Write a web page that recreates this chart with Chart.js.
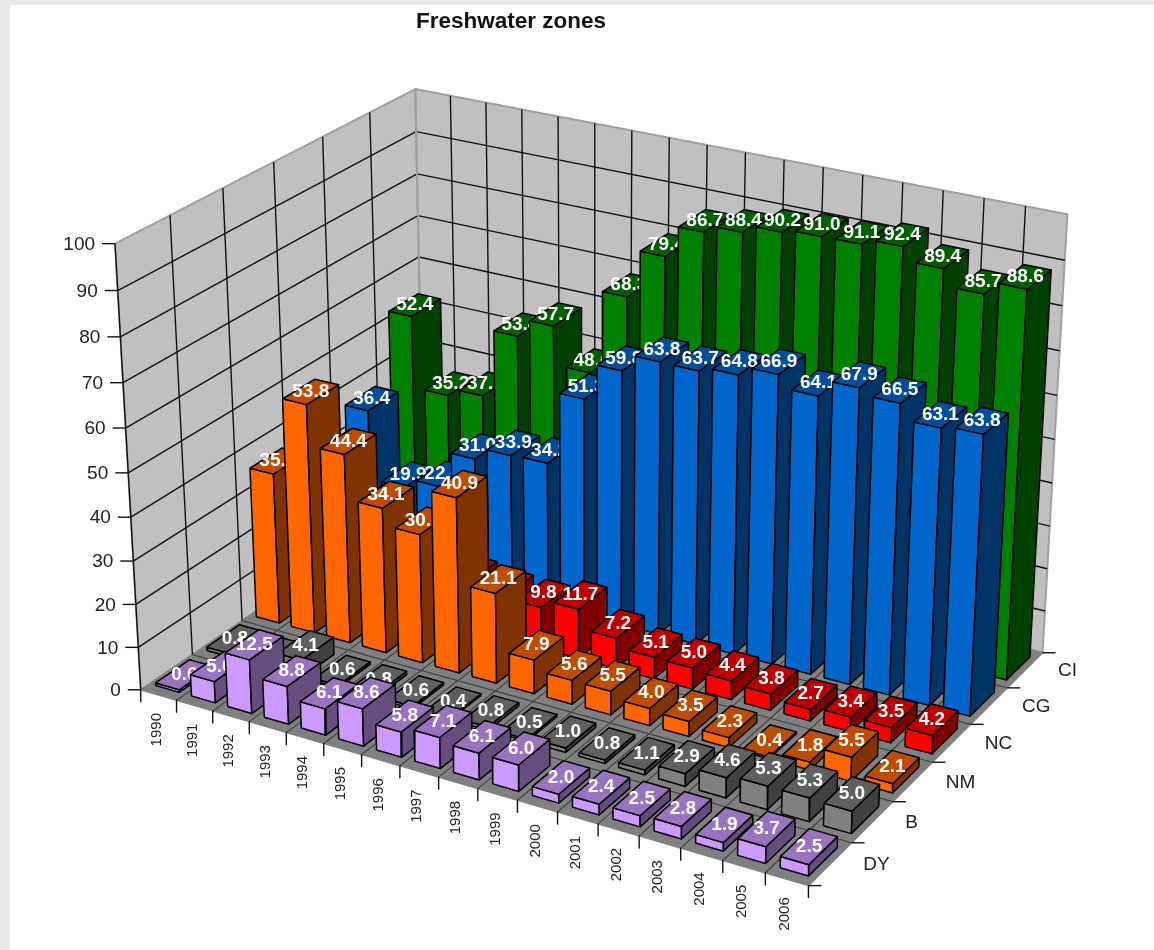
<!DOCTYPE html>
<html>
<head>
<meta charset="utf-8">
<title>Freshwater zones</title>
<script src="https://cdn.jsdelivr.net/npm/chart.js@4/dist/chart.umd.min.js"></script>
<style>
  html, body { margin: 0; height: 100%; background: #e9e9e9; overflow: hidden; }
  #panel { position: absolute; left: 10px; top: 5px; right: 0; bottom: 0; background: #fff; }
  #chart { position: absolute; left: 0; top: 0; }
</style>
</head>
<body>
<div id="panel"></div>
<canvas id="chart" width="1154" height="950"></canvas>
<script>
const years = ['1990', '1991', '1992', '1993', '1994', '1995', '1996', '1997', '1998',
  '1999', '2000', '2001', '2002', '2003', '2004', '2005', '2006'];
const zones = ['DY', 'B', 'NM', 'NC', 'CG', 'CI'];
const valueTicks = [0, 10, 20, 30, 40, 50, 60, 70, 80, 90, 100];

const dyValues = [0.6, 5.0, 12.5, 8.8, 6.1, 8.6, 5.8, 7.1, 6.1, 6.0, 2.0, 2.4, 2.5, 2.8, 1.9, 3.7, 2.5];
const bValues = [0.8, 0.5, 4.1, 0.6, 0.8, 0.6, 0.4, 0.8, 0.5, 1.0, 0.8, 1.1, 2.9, 4.6, 5.3, 5.3, 5.0];
const nmValues = [35.6, 53.8, 44.4, 34.1, 30.2, 40.9, 21.1, 7.9, 5.6, 5.5, 4.0, 3.5, 2.3, 0.4, 1.8, 5.5, 2.1];
const ncValues = [null, null, null, null, 11.0, 10.0, 9.8, 11.7, 7.2, 5.1, 5.0, 4.4, 3.8, 2.7, 3.4, 3.5, 4.2];
const cgValues = [36.4, 19.9, 22.2, 31.0, 33.9, 34.2, 51.3, 59.8, 63.8, 63.7, 64.8, 66.9, 64.1, 67.9, 66.5, 63.1, 63.8];
const ciValues = [52.4, 35.2, 37.1, 53.4, 57.7, 48.6, 68.3, 79.4, 86.7, 88.4, 90.2, 91.0, 91.1, 92.4, 89.4, 85.7, 88.6];
const zoneValues = [dyValues, bValues, nmValues, ncValues, cgValues, ciValues];

// front, side and top shades per zone
const zoneFaces = [
  ['#cc99ff', '#664d80', '#9973bf'],
  ['#808080', '#404040', '#606060'],
  ['#ff6600', '#803300', '#bf4c00'],
  ['#ff0000', '#800000', '#bf0000'],
  ['#0066cc', '#003366', '#004d99'],
  ['#008000', '#004000', '#006000']
];

const nYears = years.length, nZones = zones.length, maxValue = 100;
const barSpan = 0.66; // share of a cell taken by a bar

// where the plot box corners land: year, value, zone, then canvas x, y
const boxAnchors = [
  [0, 0, 0, 141, 691], [0, 100, 0, 115, 245], [0, 50, 0, 128, 470],
  [0, 100, 6, 415, 89], [0, 60, 6, 419, 257], [0, 0, 6, 424, 497],
  [17, 100, 6, 1068, 214], [17, 50, 6, 1054, 440], [17, 0, 6, 1043, 652],
  [17, 0, 0, 810, 885], [17, 0, 1, 850, 844], [17, 0, 3, 932, 762]
];

// least squares for the 11 terms of the perspective matrix
function solveCamera(anchors) {
  const n = 11;
  const m = Array.from({ length: n }, () => Array(n + 1).fill(0));
  const addRow = (r, b) => {
    for (let i = 0; i < n; i++) {
      for (let j = 0; j < n; j++) m[i][j] += r[i] * r[j];
      m[i][n] += r[i] * b;
    }
  };
  anchors.forEach(([yr, val, zn, px, py]) => {
    const a = yr / nYears, b = val / maxValue, c = zn / nZones, u = px / 1000, v = py / 1000;
    addRow([a, b, c, 1, 0, 0, 0, 0, -u * a, -u * b, -u * c], u);
    addRow([0, 0, 0, 0, a, b, c, 1, -v * a, -v * b, -v * c], v);
  });
  for (let i = 0; i < n; i++) {
    let p = i;
    for (let k = i + 1; k < n; k++) if (Math.abs(m[k][i]) > Math.abs(m[p][i])) p = k;
    [m[i], m[p]] = [m[p], m[i]];
    for (let k = 0; k < n; k++) {
      if (k === i) continue;
      const f = m[k][i] / m[i][i];
      for (let j = i; j <= n; j++) m[k][j] -= f * m[i][j];
    }
  }
  return m.map((row, i) => row[n] / row[i]);
}

const cam = solveCamera(boxAnchors);

// year and zone are cell positions, value is on the 0-100 axis
function project(yr, val, zn) {
  const a = yr / nYears, b = val / maxValue, c = zn / nZones;
  const w = cam[8] * a + cam[9] * b + cam[10] * c + 1;
  return {
    x: 1000 * (cam[0] * a + cam[1] * b + cam[2] * c + cam[3]) / w,
    y: 1000 * (cam[4] * a + cam[5] * b + cam[6] * c + cam[7]) / w
  };
}

const datasets = [];

function addShape(points, fill, stroke, width, label) {
  datasets.push({
    data: points,
    showLine: true,
    tension: 0,
    pointRadius: 0,
    fill: fill ? 'shape' : false,
    backgroundColor: fill || 'transparent',
    borderColor: stroke,
    borderWidth: width,
    borderJoinStyle: 'round',
    barLabel: label
  });
}

function addLine(a, b, stroke, width) {
  addShape([a, b], null, stroke, width);
}

// walls and floor
const wallEdge = '#a0a0a0', wallFill = '#c0c0c0', gridLine = '#111';
addShape([project(0, 0, 0), project(0, 100, 0), project(0, 100, 6), project(0, 0, 6), project(0, 0, 0)], wallFill, wallEdge, 2);
addShape([project(0, 0, 6), project(0, 100, 6), project(17, 100, 6), project(17, 0, 6), project(0, 0, 6)], wallFill, wallEdge, 2);
addShape([project(0, 0, 0), project(0, 0, 6), project(17, 0, 6), project(17, 0, 0), project(0, 0, 0)], '#808080', '#808080', 1.5);

valueTicks.slice(1, -1).forEach(v => {
  addLine(project(0, v, 0), project(0, v, 6), gridLine, 1.4);
  addLine(project(0, v, 6), project(17, v, 6), gridLine, 1.4);
});
for (let z = 1; z < nZones; z++) {
  addLine(project(0, 0, z), project(0, 100, z), gridLine, 1.4);
  addLine(project(0, 0, z), project(17, 0, z), '#444', 1.2);
}
for (let y = 1; y < nYears; y++) {
  addLine(project(y, 0, 6), project(y, 100, 6), gridLine, 1.4);
  addLine(project(y, 0, 0), project(y, 0, 6), '#444', 1.2);
}
addLine(project(0, 0, 0), project(0, 100, 0), gridLine, 1.4);
addLine(project(0, 0, 6), project(0, 100, 6), wallEdge, 2);

// tick marks on the three axes
valueTicks.forEach(v => {
  const p = project(0, v, 0);
  addLine(p, { x: p.x - 13, y: p.y }, gridLine, 1.4);
});
for (let y = 0; y <= nYears; y++) {
  const p = project(y, 0, 0);
  addLine(p, { x: p.x, y: p.y + 12 }, gridLine, 1.4);
}
for (let z = 0; z <= nZones; z++) {
  const p = project(17, 0, z);
  addLine(p, { x: p.x + 13, y: p.y }, gridLine, 1.4);
}

// bars, back row first and left to right inside a row
for (let z = nZones - 1; z >= 0; z--) {
  zoneValues[z].forEach((val, y) => {
    if (val === null) return;
    const inset = (1 - barSpan) / 2;
    const x0 = y + inset, x1 = y + 1 - inset, z0 = z + inset, z1 = z + 1 - inset;
    const [front, side, top] = zoneFaces[z];
    const ring = pts => pts.concat([pts[0]]);
    addShape(ring([project(x0, 0, z0), project(x1, 0, z0), project(x1, val, z0), project(x0, val, z0)]), front, '#000', 1.5);
    addShape(ring([project(x1, 0, z0), project(x1, 0, z1), project(x1, val, z1), project(x1, val, z0)]), side, '#000', 1.5);
    addShape(ring([project(x0, val, z0), project(x1, val, z0), project(x1, val, z1), project(x0, val, z1)]), top, '#000', 1.5, {
      text: val.toFixed(1),
      at: project(y + 0.5, val, z + 0.5)
    });
  });
}

// the library paints high order first, so keep the push sequence
datasets.forEach((d, i) => { d.order = datasets.length - i; });

// value label goes straight on top of its own bar so later bars can cover it
const barLabels = {
  id: 'barLabels',
  afterDatasetDraw(chart, args) {
    const label = chart.data.datasets[args.index].barLabel;
    if (!label) return;
    const { ctx, scales } = chart;
    ctx.save();
    ctx.font = 'bold 19px "Liberation Sans"';
    ctx.fillStyle = '#fff';
    ctx.textAlign = 'center';
    ctx.textBaseline = 'middle';
    ctx.fillText(label.text, scales.x.getPixelForValue(label.at.x), scales.y.getPixelForValue(label.at.y));
    ctx.restore();
  }
};

const axisText = {
  id: 'axisText',
  afterDraw(chart) {
    const { ctx, scales } = chart;
    const px = p => scales.x.getPixelForValue(p.x), py = p => scales.y.getPixelForValue(p.y);
    ctx.save();
    ctx.fillStyle = '#222';
    ctx.textBaseline = 'middle';

    ctx.font = '19px "Liberation Sans"';
    ctx.textAlign = 'right';
    valueTicks.forEach(v => {
      const p = project(0, v, 0);
      ctx.fillText(String(v), px(p) - 20, py(p) + 1);
    });

    ctx.textAlign = 'left';
    zones.forEach((name, z) => {
      const p = project(17, 0, z + 0.5);
      ctx.fillText(name, px(p) + 33, py(p) + 1);
    });

    ctx.font = '15px "Liberation Sans"';
    ctx.textAlign = 'right';
    years.forEach((yr, y) => {
      const p = project(y + 0.5, 0, 0);
      ctx.save();
      ctx.translate(px(p) - 2, py(p) + 18);
      ctx.rotate(-Math.PI / 2);
      ctx.fillText(yr, 0, 0);
      ctx.restore();
    });

    ctx.font = 'bold 22.5px "Liberation Sans"';
    ctx.textAlign = 'center';
    ctx.fillStyle = '#111';
    ctx.fillText('Freshwater zones', 511, 22);
    ctx.restore();
  }
};

new Chart(document.getElementById('chart'), {
  type: 'scatter',
  data: { datasets },
  options: {
    responsive: false,
    animation: false,
    layout: { padding: 0 },
    events: [],
    plugins: { legend: { display: false }, tooltip: { enabled: false } },
    scales: {
      x: { type: 'linear', display: false, min: 0, max: 1154 },
      y: { type: 'linear', display: false, min: 0, max: 950, reverse: true }
    }
  },
  plugins: [barLabels, axisText]
});
</script>
</body>
</html>
